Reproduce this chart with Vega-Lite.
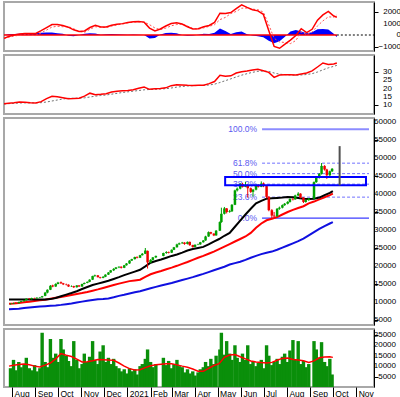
{
"$schema":"https://vega.github.io/schema/vega-lite/v6.json",
"padding":0,
"spacing":4,
"bounds":"flush",
"background":"white",
"config":{"font":"Liberation Sans","view":{"stroke":"#a8a8a8","strokeWidth":2},
 "axis":{"labelFont":"Liberation Sans","labelFontSize":8.2,"labelColor":"#000","domainColor":"#000","tickColor":"#000","grid":false,"tickSize":4}},
"datasets":{
"t1":[{"v":-1000},{"v":0},{"v":1000},{"v":2000}],
"t2":[{"v":10},{"v":15},{"v":20},{"v":25},{"v":30}],
"t3":[{"v":5000},{"v":10000},{"v":15000},{"v":20000},{"v":25000},{"v":30000},{"v":35000},{"v":40000},{"v":45000},{"v":50000},{"v":55000},{"v":60000}],
"t4":[{"v":5000},{"v":10000},{"v":15000},{"v":20000},{"v":25000}],
"c":[
{"d":"2020-07-30","o":9400,"h":9650,"l":9300,"c":9500,"v":9000},
{"d":"2020-08-03","o":9500,"h":9800,"l":9450,"c":9700,"v":13000},
{"d":"2020-08-06","o":9750,"h":9850,"l":9500,"c":9600,"v":8000},
{"d":"2020-08-10","o":9650,"h":10100,"l":9600,"c":10000,"v":12000},
{"d":"2020-08-13","o":10000,"h":10300,"l":9900,"c":10200,"v":9500},
{"d":"2020-08-17","o":10200,"h":10600,"l":10100,"c":10500,"v":11000},
{"d":"2020-08-20","o":10500,"h":11000,"l":10400,"c":10900,"v":14000},
{"d":"2020-08-24","o":10950,"h":11050,"l":10700,"c":10800,"v":9000},
{"d":"2020-08-27","o":10800,"h":11200,"l":10700,"c":11100,"v":8000},
{"d":"2020-08-31","o":11100,"h":11200,"l":10900,"c":11000,"v":10500},
{"d":"2020-09-03","o":11000,"h":11300,"l":10900,"c":11200,"v":7500},
{"d":"2020-09-07","o":11200,"h":11400,"l":11100,"c":11300,"v":9000},
{"d":"2020-09-10","o":11300,"h":11700,"l":11200,"c":11600,"v":26000},
{"d":"2020-09-14","o":11700,"h":12800,"l":11600,"c":12600,"v":12000},
{"d":"2020-09-17","o":12600,"h":13500,"l":12400,"c":13400,"v":9500},
{"d":"2020-09-21","o":13400,"h":14700,"l":13300,"c":14500,"v":23000},
{"d":"2020-09-24","o":14600,"h":14800,"l":14100,"c":14300,"v":14000},
{"d":"2020-09-28","o":14300,"h":15200,"l":14200,"c":15000,"v":16000},
{"d":"2020-10-01","o":15000,"h":15600,"l":14900,"c":15400,"v":12000},
{"d":"2020-10-05","o":15500,"h":15700,"l":15000,"c":15200,"v":23000},
{"d":"2020-10-08","o":15200,"h":15300,"l":14700,"c":14900,"v":18000},
{"d":"2020-10-12","o":14900,"h":15100,"l":14600,"c":14800,"v":15000},
{"d":"2020-10-15","o":14800,"h":14900,"l":14200,"c":14300,"v":12500},
{"d":"2020-10-19","o":14300,"h":14600,"l":14200,"c":14400,"v":10000},
{"d":"2020-10-22","o":14400,"h":14500,"l":13900,"c":14100,"v":22000},
{"d":"2020-10-26","o":14100,"h":14700,"l":14000,"c":14600,"v":13000},
{"d":"2020-10-29","o":14600,"h":14700,"l":14200,"c":14300,"v":9000},
{"d":"2020-11-02","o":14300,"h":15100,"l":14200,"c":15000,"v":11000},
{"d":"2020-11-05","o":15000,"h":15400,"l":14900,"c":15300,"v":16000},
{"d":"2020-11-09","o":15300,"h":15700,"l":15200,"c":15600,"v":12000},
{"d":"2020-11-12","o":15600,"h":16300,"l":15500,"c":16200,"v":14500},
{"d":"2020-11-16","o":16200,"h":17300,"l":16100,"c":17200,"v":22000},
{"d":"2020-11-19","o":17200,"h":17600,"l":17000,"c":17400,"v":13000},
{"d":"2020-11-23","o":17400,"h":17500,"l":16800,"c":16900,"v":11000},
{"d":"2020-11-26","o":16900,"h":17000,"l":16500,"c":16700,"v":17000},
{"d":"2020-11-30","o":16700,"h":17200,"l":16600,"c":17000,"v":20000},
{"d":"2020-12-03","o":17000,"h":17700,"l":16900,"c":17600,"v":12000},
{"d":"2020-12-07","o":17600,"h":18300,"l":17500,"c":18200,"v":14000},
{"d":"2020-12-10","o":18200,"h":18900,"l":18100,"c":18800,"v":11000},
{"d":"2020-12-14","o":18800,"h":19400,"l":18600,"c":19200,"v":13500},
{"d":"2020-12-17","o":19200,"h":19700,"l":19100,"c":19600,"v":10000},
{"d":"2020-12-21","o":19600,"h":19900,"l":19400,"c":19800,"v":9000},
{"d":"2020-12-24","o":19800,"h":19900,"l":19300,"c":19500,"v":7500},
{"d":"2020-12-28","o":19500,"h":20300,"l":19400,"c":20200,"v":8500},
{"d":"2020-12-31","o":20200,"h":20800,"l":20100,"c":20700,"v":6500},
{"d":"2021-01-04","o":20700,"h":21600,"l":20600,"c":21500,"v":9000},
{"d":"2021-01-07","o":21500,"h":22000,"l":21400,"c":21900,"v":7500},
{"d":"2021-01-11","o":21900,"h":22600,"l":21800,"c":22500,"v":8500},
{"d":"2021-01-14","o":22500,"h":22700,"l":22100,"c":22300,"v":6000},
{"d":"2021-01-18","o":22300,"h":23100,"l":22200,"c":23000,"v":10000},
{"d":"2021-01-21","o":23000,"h":23600,"l":22900,"c":23400,"v":11000},
{"d":"2021-01-25","o":23400,"h":25000,"l":23300,"c":24300,"v":13500},
{"d":"2021-01-28","o":24200,"h":24300,"l":19300,"c":21000,"v":18000},
{"d":"2021-02-01","o":21000,"h":21900,"l":20800,"c":21700,"v":12000},
{"d":"2021-02-04","o":21700,"h":22500,"l":21500,"c":22400,"v":9500},
{"d":"2021-02-08","o":22400,"h":22900,"l":22200,"c":22800,"v":11000},
{"d":"2021-02-18","o":22800,"h":23700,"l":22700,"c":23600,"v":14000},
{"d":"2021-02-22","o":23600,"h":24100,"l":23400,"c":23900,"v":10500},
{"d":"2021-02-25","o":23900,"h":24000,"l":23500,"c":23700,"v":12500},
{"d":"2021-03-01","o":23700,"h":24600,"l":23600,"c":24500,"v":9000},
{"d":"2021-03-04","o":24500,"h":25300,"l":24400,"c":25200,"v":11000},
{"d":"2021-03-08","o":25200,"h":26200,"l":25100,"c":26000,"v":13000},
{"d":"2021-03-11","o":26000,"h":26500,"l":25900,"c":26300,"v":10000},
{"d":"2021-03-15","o":26300,"h":26700,"l":26200,"c":26500,"v":9500},
{"d":"2021-03-18","o":26500,"h":26600,"l":25900,"c":26100,"v":7000},
{"d":"2021-03-22","o":26100,"h":26800,"l":26000,"c":26700,"v":8500},
{"d":"2021-03-25","o":26700,"h":26800,"l":25600,"c":25800,"v":6500},
{"d":"2021-03-29","o":25800,"h":25900,"l":25100,"c":25300,"v":7500},
{"d":"2021-04-01","o":25300,"h":26000,"l":25200,"c":25900,"v":5500},
{"d":"2021-04-05","o":25900,"h":26200,"l":25800,"c":26000,"v":7000},
{"d":"2021-04-08","o":26000,"h":26700,"l":25900,"c":26600,"v":8500},
{"d":"2021-04-12","o":26600,"h":27200,"l":26500,"c":27100,"v":9500},
{"d":"2021-04-15","o":27100,"h":28400,"l":27000,"c":28200,"v":12000},
{"d":"2021-04-19","o":28200,"h":29600,"l":28100,"c":29400,"v":10000},
{"d":"2021-04-22","o":29400,"h":29500,"l":28800,"c":29000,"v":13500},
{"d":"2021-04-26","o":29000,"h":29100,"l":28300,"c":28500,"v":11000},
{"d":"2021-04-29","o":28500,"h":30000,"l":28400,"c":29800,"v":15000},
{"d":"2021-05-04","o":29800,"h":32400,"l":29700,"c":32200,"v":18000},
{"d":"2021-05-06","o":32200,"h":36200,"l":32000,"c":34500,"v":26000},
{"d":"2021-05-10","o":34500,"h":36400,"l":34300,"c":36000,"v":15500},
{"d":"2021-05-13","o":36000,"h":36100,"l":34600,"c":35000,"v":22000},
{"d":"2021-05-17","o":35000,"h":35600,"l":34800,"c":35200,"v":16000},
{"d":"2021-05-20","o":35200,"h":37200,"l":35000,"c":37000,"v":13000},
{"d":"2021-05-24","o":37000,"h":41200,"l":36900,"c":41000,"v":20000},
{"d":"2021-05-27","o":41000,"h":41800,"l":40700,"c":41500,"v":14000},
{"d":"2021-05-31","o":41500,"h":43000,"l":41300,"c":42800,"v":12000},
{"d":"2021-06-03","o":42800,"h":43100,"l":41800,"c":42000,"v":16000},
{"d":"2021-06-07","o":42000,"h":43400,"l":41900,"c":42500,"v":13000},
{"d":"2021-06-10","o":42500,"h":42600,"l":39000,"c":41600,"v":20000},
{"d":"2021-06-14","o":41600,"h":41800,"l":40300,"c":40600,"v":11000},
{"d":"2021-06-17","o":40600,"h":41400,"l":39300,"c":41200,"v":12500},
{"d":"2021-06-21","o":41200,"h":42600,"l":41000,"c":42400,"v":10000},
{"d":"2021-06-24","o":42400,"h":42700,"l":41800,"c":42000,"v":11500},
{"d":"2021-06-28","o":42000,"h":43500,"l":41900,"c":42900,"v":13000},
{"d":"2021-07-01","o":42900,"h":43200,"l":41900,"c":42200,"v":9000},
{"d":"2021-07-05","o":42200,"h":42400,"l":38800,"c":39200,"v":20000},
{"d":"2021-07-08","o":39200,"h":39400,"l":35200,"c":35500,"v":15000},
{"d":"2021-07-12","o":35500,"h":35800,"l":33300,"c":34000,"v":10500},
{"d":"2021-07-15","o":34000,"h":35000,"l":33500,"c":33800,"v":12000},
{"d":"2021-07-19","o":33800,"h":36100,"l":33700,"c":35900,"v":13500},
{"d":"2021-07-22","o":35900,"h":36500,"l":35600,"c":36200,"v":11000},
{"d":"2021-07-26","o":36200,"h":37100,"l":36000,"c":36900,"v":14500},
{"d":"2021-07-29","o":36900,"h":37500,"l":36700,"c":37300,"v":16000},
{"d":"2021-08-02","o":37300,"h":38000,"l":37100,"c":37800,"v":12000},
{"d":"2021-08-05","o":37800,"h":38800,"l":37600,"c":38600,"v":17500},
{"d":"2021-08-09","o":38600,"h":38900,"l":38200,"c":38500,"v":22500},
{"d":"2021-08-12","o":38500,"h":39800,"l":38400,"c":39600,"v":13000},
{"d":"2021-08-16","o":39600,"h":40500,"l":39400,"c":40100,"v":22000},
{"d":"2021-08-19","o":40100,"h":40200,"l":38800,"c":39000,"v":11000},
{"d":"2021-08-23","o":39000,"h":39100,"l":37500,"c":37800,"v":12500},
{"d":"2021-08-26","o":37800,"h":38500,"l":37600,"c":38300,"v":9500},
{"d":"2021-08-30","o":38300,"h":38900,"l":38100,"c":38700,"v":11000},
{"d":"2021-09-06","o":38700,"h":43500,"l":38600,"c":43300,"v":22000},
{"d":"2021-09-09","o":43300,"h":44700,"l":43100,"c":44500,"v":18000},
{"d":"2021-09-13","o":44500,"h":45800,"l":44300,"c":45600,"v":14000},
{"d":"2021-09-16","o":45600,"h":48600,"l":45400,"c":47800,"v":21500},
{"d":"2021-09-20","o":47800,"h":48000,"l":46500,"c":46800,"v":12000},
{"d":"2021-09-23","o":46800,"h":47000,"l":44200,"c":45200,"v":10000},
{"d":"2021-09-27","o":45200,"h":46500,"l":45000,"c":46300,"v":13500},
{"d":"2021-09-30","o":46300,"h":47200,"l":46100,"c":47000,"v":6000}
],
"l":[
{"d":"2020-07-28","m1":10700,"m2":9530,"m3":7970,"vm":10000,"mc":-290,"sg":-290,"hs":0,"p":11,"pm":10.8},
{"d":"2020-08-03","m1":10700,"m2":9600,"m3":8050,"vm":10400,"mc":-130,"sg":-190,"hs":60,"p":11.3,"pm":11},
{"d":"2020-08-10","m1":10700,"m2":9750,"m3":8150,"vm":10800,"mc":0,"sg":-90,"hs":90,"p":11.6,"pm":11.2},
{"d":"2020-08-17","m1":10700,"m2":9950,"m3":8300,"vm":11000,"mc":80,"sg":-20,"hs":100,"p":12,"pm":11.4},
{"d":"2020-08-24","m1":10700,"m2":10100,"m3":8450,"vm":10700,"mc":140,"sg":20,"hs":120,"p":11.8,"pm":11.5},
{"d":"2020-08-31","m1":10700,"m2":10300,"m3":8600,"vm":10000,"mc":140,"sg":-10,"hs":150,"p":11.5,"pm":11.5},
{"d":"2020-09-07","m1":10700,"m2":10450,"m3":8750,"vm":9600,"mc":140,"sg":-40,"hs":180,"p":11.4,"pm":11.5},
{"d":"2020-09-14","m1":10720,"m2":10650,"m3":8850,"vm":10500,"mc":380,"sg":180,"hs":200,"p":12.2,"pm":11.6},
{"d":"2020-09-21","m1":10800,"m2":10900,"m3":8950,"vm":11500,"mc":650,"sg":430,"hs":220,"p":14,"pm":12},
{"d":"2020-09-28","m1":11100,"m2":11150,"m3":9050,"vm":13500,"mc":910,"sg":690,"hs":220,"p":15.4,"pm":12.6},
{"d":"2020-10-05","m1":11600,"m2":11400,"m3":9200,"vm":16000,"mc":910,"sg":760,"hs":150,"p":15.2,"pm":13.2},
{"d":"2020-10-12","m1":12050,"m2":11650,"m3":9400,"vm":15200,"mc":820,"sg":720,"hs":100,"p":14.6,"pm":13.8},
{"d":"2020-10-19","m1":12500,"m2":11950,"m3":9600,"vm":14600,"mc":680,"sg":740,"hs":-60,"p":14,"pm":14.2},
{"d":"2020-10-26","m1":13000,"m2":12250,"m3":9850,"vm":13400,"mc":450,"sg":550,"hs":-100,"p":14.1,"pm":14.3},
{"d":"2020-11-02","m1":13600,"m2":12500,"m3":10100,"vm":12000,"mc":300,"sg":300,"hs":0,"p":14.3,"pm":14.3},
{"d":"2020-11-09","m1":14150,"m2":12800,"m3":10350,"vm":12100,"mc":350,"sg":230,"hs":120,"p":15.5,"pm":14.5},
{"d":"2020-11-16","m1":14700,"m2":13150,"m3":10550,"vm":12600,"mc":650,"sg":500,"hs":150,"p":17.3,"pm":15},
{"d":"2020-11-23","m1":15100,"m2":13500,"m3":10750,"vm":13200,"mc":850,"sg":720,"hs":130,"p":16.4,"pm":15.5},
{"d":"2020-11-30","m1":15500,"m2":13900,"m3":10850,"vm":13100,"mc":700,"sg":680,"hs":20,"p":16.6,"pm":15.9},
{"d":"2020-12-07","m1":15900,"m2":14300,"m3":11000,"vm":12900,"mc":700,"sg":640,"hs":60,"p":17,"pm":16.2},
{"d":"2020-12-14","m1":16400,"m2":14700,"m3":11300,"vm":12800,"mc":850,"sg":770,"hs":80,"p":18,"pm":16.7},
{"d":"2020-12-21","m1":16900,"m2":15100,"m3":11700,"vm":11500,"mc":940,"sg":880,"hs":60,"p":18.5,"pm":17.2},
{"d":"2020-12-28","m1":17450,"m2":15450,"m3":12000,"vm":10000,"mc":990,"sg":950,"hs":40,"p":18.7,"pm":17.7},
{"d":"2021-01-04","m1":17950,"m2":15800,"m3":12350,"vm":8800,"mc":1080,"sg":1050,"hs":30,"p":18.9,"pm":18.1},
{"d":"2021-01-11","m1":18450,"m2":16000,"m3":12700,"vm":8200,"mc":1160,"sg":1120,"hs":40,"p":19.4,"pm":18.5},
{"d":"2021-01-18","m1":18950,"m2":16200,"m3":13000,"vm":8300,"mc":1180,"sg":1150,"hs":30,"p":20.2,"pm":18.9},
{"d":"2021-01-25","m1":19900,"m2":17000,"m3":13400,"vm":9300,"mc":1120,"sg":1120,"hs":0,"p":21,"pm":19.3},
{"d":"2021-02-01","m1":20900,"m2":17700,"m3":13800,"vm":10200,"mc":600,"sg":900,"hs":-300,"p":19.6,"pm":19.5},
{"d":"2021-02-08","m1":21400,"m2":18200,"m3":14200,"vm":10700,"mc":360,"sg":610,"hs":-250,"p":19.9,"pm":19.6},
{"d":"2021-02-15","m1":21800,"m2":18600,"m3":14600,"vm":10900,"mc":520,"sg":470,"hs":50,"p":20.1,"pm":19.8},
{"d":"2021-02-22","m1":22300,"m2":19100,"m3":14950,"vm":11100,"mc":780,"sg":600,"hs":180,"p":20.5,"pm":20},
{"d":"2021-03-01","m1":22800,"m2":19550,"m3":15300,"vm":11150,"mc":1000,"sg":800,"hs":200,"p":21.8,"pm":20.4},
{"d":"2021-03-08","m1":23200,"m2":20050,"m3":15700,"vm":10600,"mc":1060,"sg":910,"hs":150,"p":22.4,"pm":20.9},
{"d":"2021-03-15","m1":23700,"m2":20600,"m3":16100,"vm":10000,"mc":950,"sg":950,"hs":0,"p":22.2,"pm":21.3},
{"d":"2021-03-22","m1":24300,"m2":21100,"m3":16500,"vm":9500,"mc":720,"sg":780,"hs":-60,"p":22,"pm":21.6},
{"d":"2021-03-29","m1":24700,"m2":21700,"m3":16900,"vm":8600,"mc":520,"sg":560,"hs":-40,"p":21.9,"pm":21.8},
{"d":"2021-04-05","m1":25000,"m2":22300,"m3":17350,"vm":7600,"mc":540,"sg":510,"hs":30,"p":22,"pm":21.9},
{"d":"2021-04-12","m1":25300,"m2":22800,"m3":17800,"vm":7500,"mc":720,"sg":620,"hs":100,"p":22,"pm":22},
{"d":"2021-04-19","m1":26000,"m2":23400,"m3":18300,"vm":8900,"mc":830,"sg":750,"hs":80,"p":23,"pm":22.2},
{"d":"2021-04-26","m1":26800,"m2":24000,"m3":18800,"vm":10300,"mc":1100,"sg":900,"hs":200,"p":24.3,"pm":22.7},
{"d":"2021-05-03","m1":27500,"m2":24700,"m3":19300,"vm":11200,"mc":1900,"sg":1340,"hs":560,"p":28,"pm":23.7},
{"d":"2021-05-10","m1":28400,"m2":25400,"m3":19800,"vm":14200,"mc":1880,"sg":1530,"hs":350,"p":27.4,"pm":24.8},
{"d":"2021-05-17","m1":29200,"m2":26100,"m3":20400,"vm":15300,"mc":1950,"sg":1870,"hs":80,"p":27.7,"pm":25.9},
{"d":"2021-05-24","m1":30900,"m2":26800,"m3":20800,"vm":15600,"mc":2300,"sg":2050,"hs":250,"p":29.4,"pm":27},
{"d":"2021-05-31","m1":32600,"m2":27500,"m3":21200,"vm":14500,"mc":2630,"sg":2330,"hs":300,"p":30.2,"pm":28.1},
{"d":"2021-06-07","m1":34300,"m2":28200,"m3":21700,"vm":13500,"mc":2400,"sg":2340,"hs":60,"p":30.6,"pm":29},
{"d":"2021-06-14","m1":35900,"m2":29200,"m3":22300,"vm":12500,"mc":2200,"sg":2250,"hs":-50,"p":31.2,"pm":29.8},
{"d":"2021-06-21","m1":37400,"m2":30600,"m3":22800,"vm":12000,"mc":2100,"sg":2200,"hs":-100,"p":31.6,"pm":30.4},
{"d":"2021-06-28","m1":38100,"m2":31800,"m3":23300,"vm":11700,"mc":1800,"sg":2000,"hs":-200,"p":30.8,"pm":30.6},
{"d":"2021-07-05","m1":38700,"m2":32700,"m3":23700,"vm":11500,"mc":400,"sg":900,"hs":-500,"p":29.8,"pm":30.3},
{"d":"2021-07-12","m1":38800,"m2":33100,"m3":24000,"vm":11800,"mc":-1000,"sg":-290,"hs":-710,"p":26.8,"pm":29.4},
{"d":"2021-07-19","m1":38900,"m2":33600,"m3":24500,"vm":12800,"mc":-1150,"sg":-600,"hs":-550,"p":28.2,"pm":28.7},
{"d":"2021-07-26","m1":39000,"m2":34300,"m3":25100,"vm":13700,"mc":-800,"sg":-650,"hs":-150,"p":28.3,"pm":28.4},
{"d":"2021-08-02","m1":39150,"m2":35000,"m3":25700,"vm":13900,"mc":-450,"sg":-750,"hs":300,"p":28.3,"pm":28.2},
{"d":"2021-08-09","m1":39100,"m2":35600,"m3":26300,"vm":13200,"mc":-50,"sg":-480,"hs":430,"p":28.2,"pm":28.1},
{"d":"2021-08-16","m1":38900,"m2":36100,"m3":26900,"vm":12900,"mc":550,"sg":250,"hs":300,"p":28.8,"pm":28.2},
{"d":"2021-08-23","m1":38700,"m2":36600,"m3":27600,"vm":12600,"mc":200,"sg":50,"hs":150,"p":29.4,"pm":28.5},
{"d":"2021-08-30","m1":38600,"m2":37400,"m3":28500,"vm":11800,"mc":500,"sg":250,"hs":250,"p":30.7,"pm":29},
{"d":"2021-09-06","m1":38700,"m2":37900,"m3":29400,"vm":12500,"mc":1290,"sg":790,"hs":500,"p":33,"pm":30},
{"d":"2021-09-13","m1":39000,"m2":38500,"m3":30300,"vm":14000,"mc":1750,"sg":1230,"hs":520,"p":35.4,"pm":31.3},
{"d":"2021-09-20","m1":39700,"m2":39100,"m3":31100,"vm":14400,"mc":2060,"sg":1580,"hs":480,"p":34.5,"pm":32.5},
{"d":"2021-09-27","m1":40300,"m2":39700,"m3":31800,"vm":14500,"mc":1650,"sg":1550,"hs":100,"p":34.8,"pm":33.4},
{"d":"2021-10-01","m1":40800,"m2":40100,"m3":32200,"vm":14200,"mc":1550,"sg":1750,"hs":-200,"p":35.4,"pm":34}
],
"f":[
{"s":"2021-06-29","e":"2021-11-18","v":58000,"t":"100.0%","k":"a"},
{"s":"2021-06-29","e":"2021-11-18","v":48565,"t":"61.8%","k":"d"},
{"s":"2021-06-29","e":"2021-11-18","v":45650,"t":"50.0%","k":"d"},
{"s":"2021-06-29","e":"2021-11-18","v":42735,"t":"38.2%","k":"d"},
{"s":"2021-06-29","e":"2021-11-18","v":39130,"t":"23.6%","k":"d"},
{"s":"2021-06-29","e":"2021-11-18","v":33300,"t":"0.0%","k":"b"}
],
"x":[{"s":"2021-05-11","e":"2021-11-14","y1":42400,"y2":44700,"d":"2021-10-10","lo":42400,"hi":53300}],
"z":[{"s":"2020-07-28","e":"2021-10-01","k":"r"},{"s":"2021-10-01","e":"2021-11-18","k":"k"}]
},
"vconcat":[
{"width":370,"height":49,
 "layer":[
  {"data":{"name":"l"},"mark":{"type":"area","color":"#0000ff","interpolate":"linear"},
   "encoding":{"x":{"field":"d","type":"temporal","scale":{"domain":["2020-07-28","2021-11-18"]},"axis":null},
    "y":{"field":"hs","type":"quantitative","title":null,"scale":{"domain":[-1390,2870],"nice":false,"zero":false},
      "axis":{"orient":"right","values":[-1000,0,1000,2000],"labels":false}},
    "y2":{"datum":0}}},
  {"data":{"name":"z"},"transform":[{"filter":"datum.k == 'r'"}],"mark":{"type":"rule","color":"#ff0000","strokeWidth":1.5},
   "encoding":{"x":{"field":"s","type":"temporal"},"x2":{"field":"e"},"y":{"datum":0}}},
  {"data":{"name":"z"},"transform":[{"filter":"datum.k == 'k'"}],"mark":{"type":"rule","color":"#000000","strokeWidth":1,"strokeDash":[2,2]},
   "encoding":{"x":{"field":"s","type":"temporal"},"x2":{"field":"e"},"y":{"datum":0}}},
  {"data":{"name":"l"},"mark":{"type":"line","color":"#ff5050","strokeWidth":1,"strokeDash":[2,2]},
   "encoding":{"x":{"field":"d","type":"temporal"},"y":{"field":"sg","type":"quantitative","title":null}}},
  {"data":{"name":"l"},"mark":{"type":"line","color":"#ff0000","strokeWidth":1.5},
   "encoding":{"x":{"field":"d","type":"temporal"},"y":{"field":"mc","type":"quantitative","title":null}}},
  {"data":{"name":"t1"},"mark":{"type":"text","align":"right","baseline":"middle","dx":27,"fontSize":8,"color":"#000000"},
   "encoding":{"x":{"datum":{"year":2021,"month":11,"date":18},"type":"temporal"},"y":{"field":"v","type":"quantitative","title":null},"text":{"field":"v","type":"quantitative","format":"d"}}}
 ]},
{"width":370,"height":59,
 "layer":[
  {"data":{"name":"l"},"mark":{"type":"line","color":"#707070","strokeWidth":1,"strokeDash":[2,2]},
   "encoding":{"x":{"field":"d","type":"temporal","scale":{"domain":["2020-07-28","2021-11-18"]},"axis":null},
    "y":{"field":"pm","type":"quantitative","title":null,"scale":{"domain":[4.8,40.2],"nice":false,"zero":false},
      "axis":{"orient":"right","values":[10,15,20,25,30],"labels":false}}}},
  {"data":{"name":"l"},"mark":{"type":"line","color":"#ff0000","strokeWidth":1.5},
   "encoding":{"x":{"field":"d","type":"temporal"},"y":{"field":"p","type":"quantitative","title":null}}},
  {"data":{"name":"t2"},"mark":{"type":"text","align":"left","baseline":"middle","dx":9,"fontSize":8,"color":"#000000"},
   "encoding":{"x":{"datum":{"year":2021,"month":11,"date":18},"type":"temporal"},"y":{"field":"v","type":"quantitative","title":null},"text":{"field":"v","type":"quantitative","format":"d"}}}
 ]},
{"width":370,"height":207,
 "layer":[
  {"data":{"name":"f"},"transform":[{"filter":"datum.k == 'd'"}],"mark":{"type":"rule","color":"#7070ff","strokeWidth":1,"strokeDash":[3,2]},
   "encoding":{"x":{"field":"s","type":"temporal","scale":{"domain":["2020-07-28","2021-11-18"]},"axis":null},"x2":{"field":"e"},
    "y":{"field":"v","type":"quantitative","title":null,"scale":{"domain":[3610,61110],"nice":false,"zero":false},
      "axis":{"orient":"right","values":[5000,10000,15000,20000,25000,30000,35000,40000,45000,50000,55000,60000],"labels":false}}}},
  {"data":{"name":"f"},"transform":[{"filter":"datum.k == 'a'"}],"mark":{"type":"rule","color":"#8c8cff","strokeWidth":2},
   "encoding":{"x":{"field":"s","type":"temporal"},"x2":{"field":"e"},"y":{"field":"v","type":"quantitative","title":null}}},
  {"data":{"name":"f"},"transform":[{"filter":"datum.k == 'b'"}],"mark":{"type":"rule","color":"#3c3cff","strokeWidth":1.2},
   "encoding":{"x":{"field":"s","type":"temporal"},"x2":{"field":"e"},"y":{"field":"v","type":"quantitative","title":null}}},
  {"data":{"name":"f"},"mark":{"type":"text","align":"right","baseline":"middle","dx":-5,"fontSize":8.5,"color":"#5a5af0"},
   "encoding":{"x":{"field":"s","type":"temporal"},"y":{"field":"v","type":"quantitative","title":null},"text":{"field":"t"}}},
  {"data":{"name":"l"},"mark":{"type":"line","color":"#1010e0","strokeWidth":2},
   "encoding":{"x":{"field":"d","type":"temporal"},"y":{"field":"m3","type":"quantitative","title":null}}},
  {"data":{"name":"l"},"mark":{"type":"line","color":"#ff0000","strokeWidth":2},
   "encoding":{"x":{"field":"d","type":"temporal"},"y":{"field":"m2","type":"quantitative","title":null}}},
  {"data":{"name":"l"},"mark":{"type":"line","color":"#000000","strokeWidth":2},
   "encoding":{"x":{"field":"d","type":"temporal"},"y":{"field":"m1","type":"quantitative","title":null}}},
  {"data":{"name":"c"},"mark":{"type":"rule","strokeWidth":1},
   "encoding":{"x":{"field":"d","type":"temporal"},"y":{"field":"l","type":"quantitative","title":null},"y2":{"field":"h"},
    "color":{"condition":{"test":"datum.c >= datum.o","value":"#00a000"},"value":"#f00000"}}},
  {"data":{"name":"c"},"mark":{"type":"bar","size":2.5},
   "encoding":{"x":{"field":"d","type":"temporal"},"y":{"field":"o","type":"quantitative","title":null},"y2":{"field":"c"},
    "color":{"condition":{"test":"datum.c >= datum.o","value":"#00a000"},"value":"#f00000"}}},
  {"data":{"name":"x"},"mark":{"type":"rect","fill":"white","fillOpacity":0,"stroke":"#0000ff","strokeWidth":2},
   "encoding":{"x":{"field":"s","type":"temporal"},"x2":{"field":"e"},"y":{"field":"y1","type":"quantitative","title":null},"y2":{"field":"y2"}}},
  {"data":{"name":"x"},"mark":{"type":"rule","color":"#505050","strokeWidth":2},
   "encoding":{"x":{"field":"d","type":"temporal"},"y":{"field":"lo","type":"quantitative","title":null},"y2":{"field":"hi"}}},
  {"data":{"name":"t3"},"mark":{"type":"text","align":"left","baseline":"middle","dx":5,"fontSize":8,"color":"#000000"},
   "encoding":{"x":{"datum":{"year":2021,"month":11,"date":18},"type":"temporal"},"y":{"field":"v","type":"quantitative","title":null},"text":{"field":"v","type":"quantitative","format":"d"}}}
 ]},
{"width":370,"height":58,
 "layer":[
  {"data":{"name":"c"},"mark":{"type":"bar","size":3.4,"color":"#0a8f0a"},
   "encoding":{"x":{"field":"d","type":"temporal","scale":{"domain":["2020-07-28","2021-11-18"]},
     "axis":{"orient":"bottom","title":null,"tickCount":{"interval":"month","step":1},"labelExpr":"month(datum.value) == 0 ? timeFormat(datum.value, '%Y') : timeFormat(datum.value, '%b')","labelAlign":"left","labelBaseline":"top","labelPadding":-10,"tickSize":12,"labelOffset":2,"labelFlush":false,"labelBound":false,"domain":false,"labelFontSize":8.5}},
    "y":{"field":"v","type":"quantitative","scale":{"domain":[0,27800],"nice":false},
      "axis":{"orient":"right","values":[5000,10000,15000,20000,25000],"labels":false,
       "title":"x1000","titleAngle":0,"titleAlign":"left","titleBaseline":"alphabetic","titleX":1,"titleY":59,"titleFontSize":6,"titleFontWeight":"normal","titleFont":"Liberation Sans"}}}},
  {"data":{"name":"l"},"mark":{"type":"line","color":"#ff0000","strokeWidth":1.5},
   "encoding":{"x":{"field":"d","type":"temporal"},"y":{"field":"vm","type":"quantitative"}}},
  {"data":{"name":"t4"},"mark":{"type":"text","align":"right","baseline":"middle","dx":27,"fontSize":8,"color":"#000000"},
   "encoding":{"x":{"datum":{"year":2021,"month":11,"date":18},"type":"temporal"},"y":{"field":"v","type":"quantitative","title":null},"text":{"field":"v","type":"quantitative","format":"d"}}}
 ]}
]
}
